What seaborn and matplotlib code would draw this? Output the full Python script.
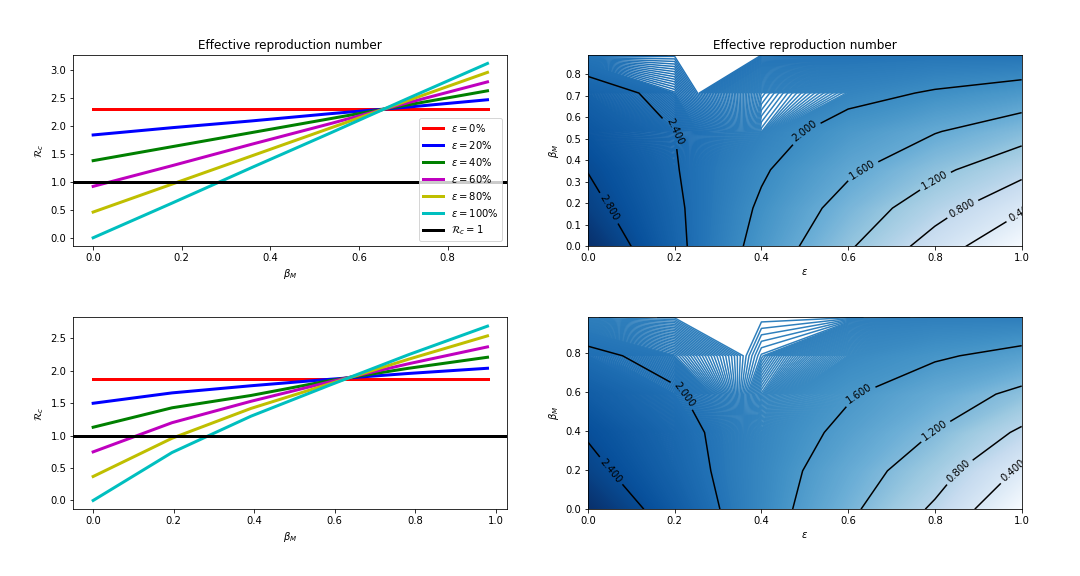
import numpy as np
import matplotlib
matplotlib.use('Agg')
import matplotlib.pyplot as plt
import seaborn as sns

# grid values
eps_grid = [0.0, 0.2, 0.4, 0.6, 0.8, 1.0]
beta_top = [0.0, 0.178, 0.356, 0.534, 0.712, 0.89]
beta_bot = [0.0, 0.196, 0.392, 0.588, 0.784, 0.98]
eps_labels = ['0', '20', '40', '60', '80', '100']
line_colors = ['r', 'b', 'g', 'm', 'y', 'c']

# R_c vs beta_M, one list per epsilon
rc_top = [
    [2.30, 2.30, 2.30, 2.30, 2.30, 2.30],
    [1.84, 1.97, 2.09, 2.22, 2.34, 2.47],
    [1.38, 1.63, 1.88, 2.13, 2.38, 2.63],
    [0.92, 1.29, 1.67, 2.04, 2.42, 2.79],
    [0.46, 0.96, 1.46, 1.96, 2.46, 2.96],
    [0.00, 0.62, 1.25, 1.87, 2.50, 3.12],
]
rc_bot = [
    [1.88, 1.88, 1.88, 1.88, 1.88, 1.88],
    [1.50, 1.66, 1.77, 1.87, 1.96, 2.04],
    [1.13, 1.43, 1.62, 1.85, 2.04, 2.21],
    [0.75, 1.20, 1.53, 1.83, 2.11, 2.37],
    [0.37, 0.96, 1.42, 1.80, 2.18, 2.54],
    [0.00, 0.74, 1.30, 1.78, 2.25, 2.69],
]

# R_c surface, rows = beta_M, columns = epsilon
z_top = [
    [3.11, 2.49, 1.87, 1.25, 0.62, 0.00],
    [2.91, 2.46, 1.95, 1.45, 0.96, 0.45],
    [2.79, 2.42, 2.04, 1.66, 1.29, 0.92],
    [2.65, 2.40, 2.14, 1.86, 1.62, 1.37],
    [2.50, 2.33, 2.16, 2.10, 1.97, 1.84],
    [2.27, 2.283, 2.283, 2.29, 2.28, 2.30],
]
z_bot = [
    [2.69, 2.24, 1.78, 1.28, 0.74, 0.00],
    [2.49, 2.15, 1.79, 1.39, 0.97, 0.34],
    [2.37, 2.10, 1.81, 1.52, 1.19, 0.74],
    [2.22, 2.02, 1.83, 1.63, 1.39, 1.12],
    [2.04, 1.94, 1.86, 1.76, 1.64, 1.50],
    [1.88, 1.876, 1.876, 1.875, 1.87, 1.88],
]

fig, axes = plt.subplots(2, 2, figsize=(15, 8))
fig.subplots_adjust(left=0.068, right=0.946, top=0.905, bottom=0.116,
                    wspace=0.186, hspace=0.37)


def line_panel(ax, beta, rc, legend=False, title=None):
    for vals, lab, col in zip(rc, eps_labels, line_colors):
        sns.lineplot(x=beta, y=vals, ax=ax, color=col, lw=3,
                     label=r'$\varepsilon=%s\%%$' % lab, legend=False)
    ax.axhline(1, color='k', lw=3, label=r'$\mathcal{R}_c=1$')
    ax.set_xlabel(r'$\beta_M$')
    ax.set_ylabel(r'$\mathcal{R}_c$')
    if legend:
        ax.legend(loc='lower right')
    if title:
        ax.set_title(title)


def contour_panel(ax, beta, z, title=None):
    z = np.array(z)
    # lots of thin lines give the shaded look
    ax.contour(eps_grid, beta, z, levels=np.linspace(z.min(), z.max(), 1000),
               cmap='Blues')
    # black labelled lines every 0.4
    lev = [l for l in [0.4, 0.8, 1.2, 1.6, 2.0, 2.4, 2.8] if l < z.max()]
    cs = ax.contour(eps_grid, beta, z, levels=lev, colors='k')
    ax.clabel(cs, fmt='%1.3f', fontsize=10)
    ax.set_xlabel(r'$\varepsilon$')
    ax.set_ylabel(r'$\beta_M$')
    if title:
        ax.set_title(title)


line_panel(axes[0, 0], beta_top, rc_top, legend=True,
           title='Effective reproduction number')
contour_panel(axes[0, 1], beta_top, z_top, title='Effective reproduction number')
line_panel(axes[1, 0], beta_bot, rc_bot)
contour_panel(axes[1, 1], beta_bot, z_bot)

fig.savefig('out.png', dpi=72)
